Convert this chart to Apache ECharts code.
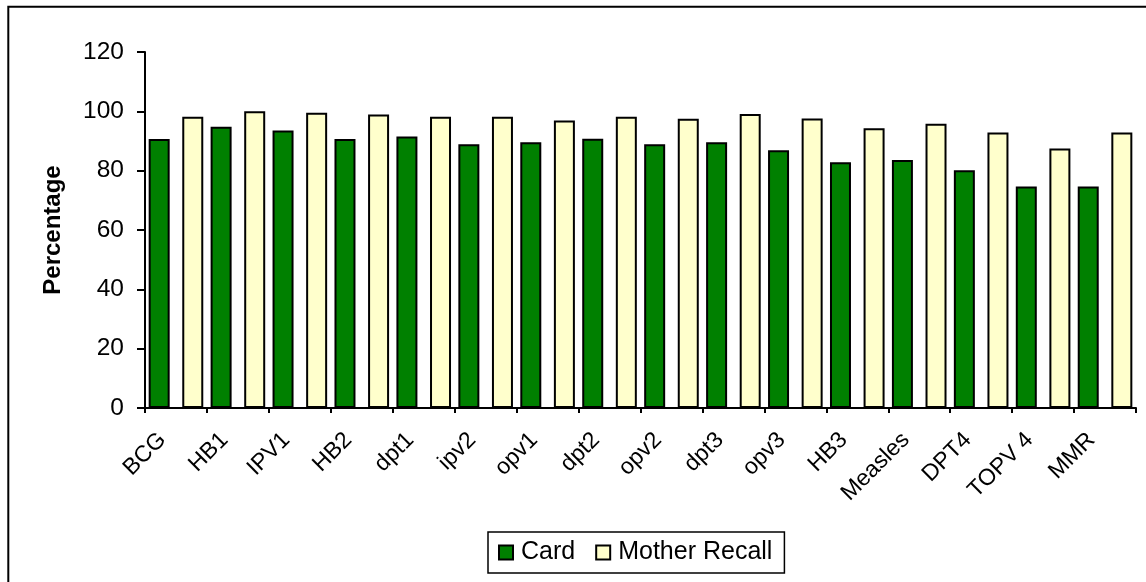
<!DOCTYPE html>
<html>
<head>
<meta charset="utf-8">
<script src="https://cdn.jsdelivr.net/npm/echarts@6/dist/echarts.min.js"></script>
<style>
  html, body { margin: 0; padding: 0; background: #fff; }
  #chart { width: 1146px; height: 582px; }
</style>
</head>
<body>
<div id="chart"></div>
<script>
const categories = ['BCG', 'HB1', 'IPV1', 'HB2', 'dpt1', 'ipv2', 'opv1', 'dpt2', 'opv2', 'dpt3', 'opv3', 'HB3', 'Measles', 'DPT4', 'TOPV 4', 'MMR'];
const cardValues = [90.7, 94.8, 93.5, 90.7, 91.5, 88.9, 89.6, 90.8, 88.9, 89.6, 86.9, 82.8, 83.6, 80.1, 74.7, 74.7];
const motherRecallValues = [98.2, 100, 99.5, 98.9, 98.2, 98.2, 96.9, 98.2, 97.5, 99.1, 97.6, 94.3, 95.8, 92.9, 87.5, 92.9];
const yTicks = { min: 0, max: 120, interval: 20 };

const FONT = "'Liberation Sans', Arial, sans-serif";
const chart = echarts.init(document.getElementById('chart'), null, { renderer: 'canvas' });

chart.setOption({
  backgroundColor: '#ffffff',
  animation: false,
  textStyle: { fontFamily: FONT, color: '#000' },
  graphic: [{
    type: 'rect',
    shape: { x: 8.3, y: 6.8, width: 1300, height: 700 },
    style: { fill: 'none', stroke: '#000', lineWidth: 2 },
    silent: true
  }],
  grid: { left: 145, right: 10, top: 52, bottom: 174, containLabel: false },
  legend: {
    data: ['Card', 'Mother Recall'],
    left: 488,
    top: 532,
    orient: 'horizontal',
    borderColor: '#000',
    borderWidth: 1.5,
    padding: [8, 12, 8, 10],
    itemWidth: 14,
    itemHeight: 14,
    itemGap: 20,
    icon: 'rect',
    textStyle: { fontFamily: FONT, fontSize: 25, color: '#000', padding: [0, 0, 0, 3] }
  },
  xAxis: {
    type: 'category',
    data: categories,
    boundaryGap: true,
    axisLine: { lineStyle: { color: '#000', width: 2 } },
    axisTick: { show: true, length: 5, inside: false, alignWithLabel: false, lineStyle: { color: '#000', width: 2 } },
    axisLabel: {
      interval: 0,
      rotate: 45,
      margin: 15,
      fontFamily: FONT,
      fontSize: 23,
      color: '#000',
      padding: [0, 19, 0, 0]
    },
    splitLine: { show: false }
  },
  yAxis: {
    type: 'value',
    min: yTicks.min,
    max: yTicks.max,
    interval: yTicks.interval,
    name: 'Percentage',
    nameLocation: 'middle',
    nameGap: 80,
    nameTextStyle: { fontFamily: FONT, fontSize: 24, fontWeight: 'bold', color: '#000' },
    axisLine: { show: true, lineStyle: { color: '#000', width: 2 } },
    axisTick: { show: true, length: 8, inside: false, lineStyle: { color: '#000', width: 2 } },
    axisLabel: { margin: 21, fontFamily: FONT, fontSize: 24.5, color: '#000' },
    splitLine: { show: false }
  },
  series: [
    {
      name: 'Card',
      type: 'bar',
      data: cardValues,
      barWidth: 21,
      barGap: '60%',
      itemStyle: { color: '#008000', borderColor: '#000', borderWidth: 2 }
    },
    {
      name: 'Mother Recall',
      type: 'bar',
      data: motherRecallValues,
      barWidth: 21,
      barGap: '60%',
      itemStyle: { color: '#FFFFCC', borderColor: '#000', borderWidth: 2 }
    }
  ]
});
</script>
</body>
</html>
